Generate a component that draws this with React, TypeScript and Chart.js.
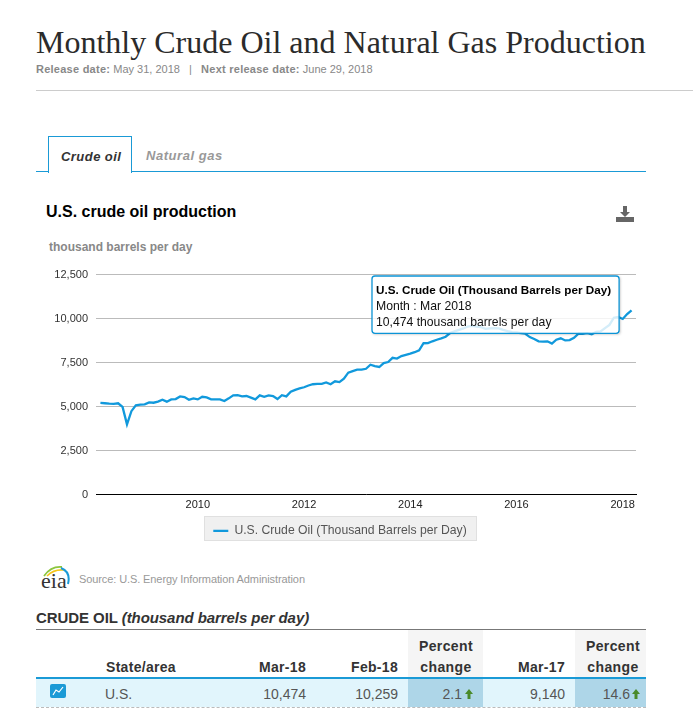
import React, { useEffect, useRef } from "react";
import { Chart, registerables, Tooltip } from "chart.js";

Chart.register(...registerables);

const SERIES_NAME = "U.S. Crude Oil (Thousand Barrels per Day)";
const monthNames = ["Jan", "Feb", "Mar", "Apr", "May", "Jun", "Jul", "Aug", "Sep", "Oct", "Nov", "Dec"];

const oil2008 = [5206, 5190, 5170, 5160, 5190, 4980, 3990, 4740, 5075, 5110];
const oil2009 = [5130, 5240, 5220, 5280, 5390, 5280, 5410, 5430, 5580, 5540, 5390, 5470];
const oil2010 = [5410, 5560, 5520, 5410, 5410, 5410, 5320, 5470, 5640, 5650, 5580, 5600];
const oil2011 = [5510, 5410, 5640, 5560, 5640, 5600, 5430, 5650, 5580, 5840, 5950, 6030];
const oil2012 = [6100, 6200, 6270, 6290, 6290, 6370, 6270, 6440, 6390, 6590, 6930, 7020];
const oil2013 = [7100, 7100, 7150, 7380, 7300, 7250, 7470, 7530, 7770, 7730, 7870, 7940];
const oil2014 = [8010, 8090, 8200, 8600, 8610, 8710, 8800, 8880, 8970, 9180, 9270, 9360];
const oil2015 = [9440, 9550, 9590, 9550, 9510, 9420, 9440, 9460, 9440, 9360, 9290, 9230];
const oil2016 = [9210, 9180, 9140, 8950, 8840, 8710, 8690, 8710, 8580, 8800, 8880, 8760];
const oil2017 = [8780, 8910, 9140, 9140, 9170, 9110, 9240, 9270, 9460, 9640, 10050, 10090];
const oil2018 = [9980, 10259, 10474];

const years = [2008, 2009, 2010, 2011, 2012, 2013, 2014, 2015, 2016, 2017, 2018];
const yearTicks = ["2010", "2012", "2014", "2016", "2018"];

const labels: string[] = ["Feb 2008"];
years.forEach((y) =>
  monthNames.forEach((m, i) => {
    if ((y === 2008 && i < 2) || (y === 2018 && i > 3)) return;
    labels.push(`${m} ${y}`);
  })
);
const values: (number | null)[] = [
  null,
  ...oil2008, ...oil2009, ...oil2010, ...oil2011, ...oil2012, ...oil2013,
  ...oil2014, ...oil2015, ...oil2016, ...oil2017, ...oil2018,
  null,
];
const activeLabel = "Mar 2018";

const SANS = '"Liberation Sans", Arial, sans-serif';
const BLUE = "#1a9ad6";
const LINE = "#1199dc";

(Tooltip.positioners as any).fixedBox = function () {
  return { x: 339, y: 16 };
};

const legendBox = {
  id: "legendBox",
  beforeDraw(chart: any) {
    const hit = chart.legend?.legendHitBoxes?.[0];
    if (!hit) return;
    const ctx = chart.ctx;
    ctx.save();
    ctx.fillStyle = "#f0f0f0";
    ctx.strokeStyle = "#e0e0e0";
    ctx.lineWidth = 1;
    const x = Math.round(hit.left) - 8.5;
    const w = Math.round(hit.width) + 19;
    ctx.fillRect(x, 256.5, w, 24);
    ctx.strokeRect(x, 256.5, w, 24);
    ctx.restore();
  },
  beforeTooltipDraw(chart: any, args: any) {
    const t = args.tooltip;
    const ctx = chart.ctx;
    ctx.save();
    const region = new Path2D();
    region.rect(0, 0, chart.width, chart.height);
    region.rect(t.x, t.y, t.width, t.height);
    ctx.clip(region, "evenodd");
    ctx.shadowColor = "rgba(0,0,0,0.45)";
    ctx.shadowBlur = 3;
    ctx.shadowOffsetX = 1;
    ctx.shadowOffsetY = 1;
    ctx.fillStyle = "#fff";
    ctx.fillRect(t.x, t.y, t.width, t.height);
    ctx.restore();
  },
};

function T({ x, y, r, c, s = 12, b, i, ls, color = "#333", font = SANS, children }: any) {
  const st: React.CSSProperties = {
    position: "absolute",
    top: y,
    lineHeight: "20px",
    marginTop: -10,
    fontFamily: font,
    fontSize: s,
    fontWeight: b ? "bold" : "normal",
    fontStyle: i ? "italic" : "normal",
    letterSpacing: ls,
    color,
    whiteSpace: "nowrap",
  };
  if (r !== undefined) st.right = 693 - r;
  else if (c !== undefined) {
    st.left = c - 50;
    st.width = 100;
    st.textAlign = "center";
  } else st.left = x;
  return <div style={st}>{children}</div>;
}

function Box({ x, y, w, h, bg, style }: any) {
  return <div style={{ position: "absolute", left: x, top: y, width: w, height: h, background: bg, ...style }} />;
}

export default function App() {
  const ref = useRef<HTMLCanvasElement>(null);
  useEffect(() => {
    document.body.style.margin = "0";
    const chart = new Chart(ref.current!, {
      type: "line",
      data: {
        labels,
        datasets: [
          {
            label: SERIES_NAME,
            data: values,
            borderColor: LINE,
            backgroundColor: LINE,
            borderWidth: 2.3,
            pointRadius: 0,
            pointHoverRadius: 0,
            pointStyle: "line",
            tension: 0,
            spanGaps: false,
          },
        ],
      },
      options: {
        responsive: false,
        animation: false,
        events: [],
        layout: { padding: { top: 5.5, right: 10, bottom: 3, left: 8 } },
        scales: {
          x: {
            type: "category",
            offset: false,
            grid: { display: false },
            border: { display: true, color: "#000", width: 1 },
            afterFit(s: any) {
              s.height = s.height + 11;
            },
            ticks: {
              autoSkip: false,
              maxRotation: 0,
              minRotation: 0,
              padding: -4,
              color: "#222",
              font: { family: SANS, size: 11 },
              callback(this: any, v: any) {
                const l: string = this.getLabelForValue(v);
                const [m, y] = l.split(" ");
                return m === "Jan" && yearTicks.includes(y) ? y : null;
              },
            },
          },
          y: {
            min: 0,
            max: 12500,
            afterFit(s: any) {
              s.width = 52;
            },
            grid: { color: "#bbb", drawTicks: false },
            border: { display: false },
            ticks: {
              stepSize: 2500,
              padding: 8,
              color: "#333",
              font: { family: SANS, size: 11 },
              callback: (v: any) => Number(v).toLocaleString("en-US"),
            },
          },
        },
        plugins: {
          title: { display: false },
          legend: {
            display: true,
            position: "bottom",
            labels: {
              usePointStyle: true,
              pointStyleWidth: 15,
              boxHeight: 12,
              padding: 6,
              color: "#555",
              font: { family: SANS, size: 12.2 },
            },
          },
          tooltip: {
            enabled: true,
            position: "fixedBox" as any,
            xAlign: "left",
            yAlign: "top",
            caretSize: 0,
            caretPadding: 0,
            cornerRadius: 3,
            backgroundColor: "rgba(255,255,255,0.82)",
            borderColor: "#0c94d6",
            borderWidth: 1.3,
            displayColors: false,
            titleColor: "#000",
            bodyColor: "#111",
            titleFont: { family: SANS, size: 11.7, weight: "bold" },
            bodyFont: { family: SANS, size: 12.2 },
            titleMarginBottom: 1,
            bodySpacing: 2,
            padding: { left: 4, right: 8, top: 8, bottom: 3 },
            callbacks: {
              title: () => SERIES_NAME,
              label: (c: any) => [
                `Month : ${c.label}`,
                `${Number(c.raw).toLocaleString("en-US")} thousand barrels per day`,
              ],
            },
          },
        },
      },
      plugins: [legendBox],
    } as any);
    const idx = labels.indexOf(activeLabel);
    chart.tooltip!.setActiveElements([{ datasetIndex: 0, index: idx }], { x: 0, y: 0 });
    chart.update();
    return () => chart.destroy();
  }, []);

  const row = "#555";
  const bsp: React.CSSProperties = { letterSpacing: 0.25 };
  return (
    <div style={{ position: "absolute", left: 0, top: 0, width: 693, height: 711, overflow: "hidden", background: "#fff" }}>
      <T x={36} y={42} s={32} color="#2b2b2b" font='"Liberation Serif", serif'>
        Monthly Crude Oil and Natural Gas Production
      </T>
      <T x={36} y={69} s={11} color="#888">
        <b style={bsp}>Release date:</b> May 31, 2018 &nbsp; | &nbsp; <b style={bsp}>Next release date:</b> June 29, 2018
      </T>
      <Box x={36} y={90} w={657} h={1} bg="#ccc" />

      <Box x={36} y={171} w={610} h={1} bg={BLUE} />
      <Box x={48} y={136} w={82} h={36} bg="#fff" style={{ border: `1px solid ${BLUE}`, borderBottom: "none" }} />
      <T x={61} y={157} s={13} b i ls={0.45} color="#333">Crude oil</T>
      <T x={146} y={156} s={13} b i ls={0.55} color="#999">Natural gas</T>

      <T x={46} y={212} s={16} b color="#000">U.S. crude oil production</T>
      <svg style={{ position: "absolute", left: 616, top: 206 }} width={18} height={17} viewBox="0 0 18 17">
        <path d="M7 0h4v6h3l-5 5-5-5h3z" fill="#666" />
        <rect x="0" y="11" width="18" height="5" fill="#666" />
      </svg>
      <T x={49} y={247} s={12} b color="#888">thousand barrels per day</T>

      <canvas ref={ref} width={610} height={290} style={{ position: "absolute", left: 36, top: 260, display: "block" }} />

      <svg style={{ position: "absolute", left: 40, top: 564 }} width={32} height={26} viewBox="0 0 32 26">
        <path d="M4 12 Q11 2 22 3" stroke="#8cc63f" strokeWidth="1.8" fill="none" />
        <path d="M7 12 Q14 5 24 6" stroke="#f5c518" strokeWidth="1.5" fill="none" />
        <path d="M21 4 Q31 8 28 20" stroke="#1a9ad6" strokeWidth="2" fill="none" />
        <text x="1" y="24" fontFamily='"Liberation Serif", serif' fontSize="22" fill="#333">eia</text>
      </svg>
      <T x={79} y={579} s={11} ls={-0.1} color="#999">Source: U.S. Energy Information Administration</T>

      <T x={36} y={618} s={15} b ls={-0.07} color="#333">CRUDE OIL <i>(thousand barrels per day)</i></T>
      <Box x={36} y={629} w={610} h={1} bg="#777" />
      <Box x={408} y={630} w={75} h={47} bg="#f5f5f5" />
      <Box x={575} y={630} w={71} h={47} bg="#f5f5f5" />
      <Box x={36} y={677} w={610} h={2} bg={BLUE} />
      <Box x={36} y={679} w={610} h={28} bg="#e1f5fc" />
      <Box x={408} y={679} w={75} h={28} bg="#aed6e8" />
      <Box x={575} y={679} w={71} h={28} bg="#aed6e8" />
      <Box x={36} y={707} w={610} h={0} style={{ borderTop: "1px dashed #bbb" }} />

      <T x={106} y={667} s={14} b ls={0.3}>State/area</T>
      <T r={306} y={667} s={14} b ls={0.3}>Mar-18</T>
      <T r={398} y={667} s={14} b ls={0.3}>Feb-18</T>
      <T c={446} y={646} s={14} b ls={0.4}>Percent</T>
      <T c={446} y={667} s={14} b ls={0.4}>change</T>
      <T r={565} y={667} s={14} b ls={0.3}>Mar-17</T>
      <T c={613} y={646} s={14} b ls={0.4}>Percent</T>
      <T c={613} y={667} s={14} b ls={0.4}>change</T>

      <svg style={{ position: "absolute", left: 50, top: 684 }} width={16} height={14} viewBox="0 0 16 14">
        <rect width="16" height="14" rx="2" fill="#1a9ad6" />
        <path d="M3 11 L6 6 L9 8 L13 3" stroke="#fff" strokeWidth="1.2" fill="none" />
      </svg>
      <T x={105} y={694} s={14} color={row}>U.S.</T>
      <T r={306} y={694} s={14} color={row}>10,474</T>
      <T r={398} y={694} s={14} color={row}>10,259</T>
      <T r={462} y={694} s={14} color={row}>2.1</T>
      <T r={565} y={694} s={14} color={row}>9,140</T>
      <T r={630} y={694} s={14} color={row}>14.6</T>
      <svg style={{ position: "absolute", left: 465, top: 689 }} width={8} height={10} viewBox="0 0 8 10">
        <path d="M4 0 L8 5 H5.5 V10 H2.5 V5 H0 Z" fill="#4a8a2a" />
      </svg>
      <svg style={{ position: "absolute", left: 632, top: 689 }} width={8} height={10} viewBox="0 0 8 10">
        <path d="M4 0 L8 5 H5.5 V10 H2.5 V5 H0 Z" fill="#4a8a2a" />
      </svg>
    </div>
  );
}
